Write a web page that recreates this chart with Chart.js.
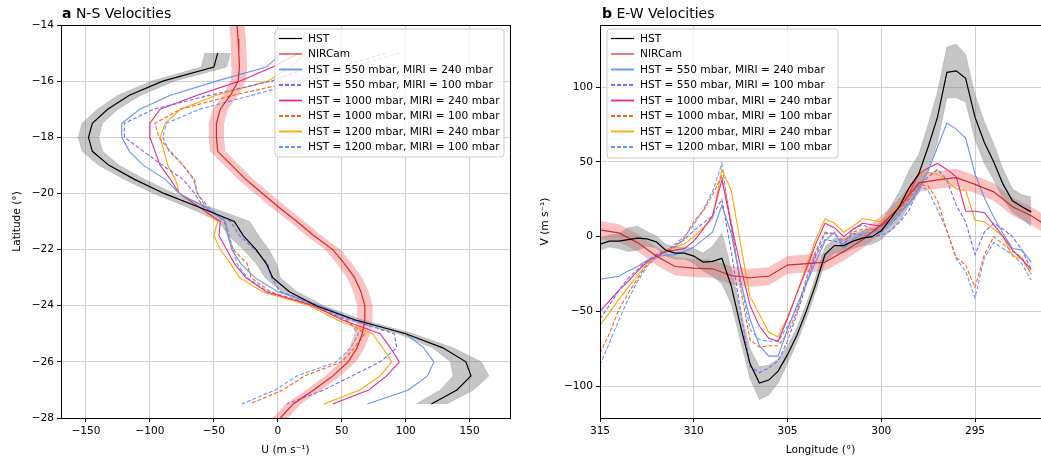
<!DOCTYPE html>
<html>
<head>
<meta charset="utf-8">
<script src="https://cdn.jsdelivr.net/npm/chart.js@4.4.0/dist/chart.umd.min.js"></script>
<style>
  body { margin: 0; background: #fff; }
  #wrap { position: relative; width: 1041px; height: 460px; overflow: hidden; }
  #left { position: absolute; left: 0; top: 0; }
  #right { position: absolute; left: 520px; top: 0; }
</style>
</head>
<body>
<div id="wrap">
  <canvas id="left" width="520" height="460"></canvas>
  <canvas id="right" width="521" height="460"></canvas>
</div>
<script>
// ---- series labels / styles ----
var seriesLabels = ['HST', 'NIRCam',
  'HST = 550 mbar, MIRI = 240 mbar', 'HST = 550 mbar, MIRI = 100 mbar',
  'HST = 1000 mbar, MIRI = 240 mbar', 'HST = 1000 mbar, MIRI = 100 mbar',
  'HST = 1200 mbar, MIRI = 240 mbar', 'HST = 1200 mbar, MIRI = 100 mbar'];
var seriesColors = ['#000000', '#d62728', '#6495ed', '#7b68ee', '#e7298a', '#ff6314', '#ffa500', '#6495ff'];
var seriesDash = [[], [], [], [4, 2], [], [4, 2], [], [4, 2]];

// ---- tick values ----
var uTicks = [-150, -100, -50, 0, 50, 100, 150];
var latTicks = [-28, -26, -24, -22, -20, -18, -16, -14];
var lonTicks = [315, 310, 305, 300, 295];
var vTicks = [-100, -50, 0, 50, 100];

// ---- panel a: N-S velocities (U vs latitude) ----
var latA = [-15, -15.5, -16, -16.5, -17, -17.5, -18, -18.5, -19, -19.5, -20, -20.5, -21,
  -21.5, -22, -22.5, -23, -23.5, -24, -24.5, -25, -25.5, -26, -26.5, -27, -27.5];
var hstU = [-47, -50, -90, -116, -133, -145, -148, -145, -132, -112, -89, -61, -34,
  -27, -17, -9, -4, 9, 30, 60, 100, 129, 147, 151, 140, 120];
var hstUErr = [10, 10, 9, 9, 8, 8, 8, 8, 8, 8, 8, 9, 12, 12, 10, 8, 6, 6, 6, 6, 6, 8, 12, 14, 13, 12];
var nircamLatA = [-14, -14.5, -15, -15.5, -16, -16.5, -17, -17.5, -18, -18.5, -19, -19.5, -20, -20.5,
  -21, -21.5, -22, -22.5, -23, -23.5, -24, -24.5, -25, -25.5, -26, -26.5, -27, -27.5, -28];
var nircamU = [-32, -31, -30.5, -30, -31, -37, -45, -48, -48, -47, -36, -25, -12, 1,
  15, 28, 43, 52, 60, 65, 68, 68, 66, 62, 55, 43, 28, 12, 2];
var nircamUErr = [6, 6, 6, 6, 6, 6, 6, 6, 6, 6, 6, 6, 6, 6, 6, 6, 6, 6, 6, 6, 6, 6, 6, 6, 6, 6, 6, 6, 6];
var u550_240 = [3, -9, -48, -84, -108, -122, -122, -116, -105, -88, -77, -56, -41,
  -39, -36, -29, -18, 0, 33, 60, 100, 114, 122, 117, 102, 70];
var u550_100 = [45, 25, -5, -53, -97, -120, -120, -105, -90, -74, -65, -58, -37,
  -30, -18, -8, -5, 2, 33, 57, 91, 93, 80, 58, 36, 7];
var u1000_240 = [17, -4, -30, -63, -92, -100, -100, -96, -92, -84, -77, -61, -45,
  -46, -40, -34, -25, -9, 28, 50, 80, 88, 95, 85, 71, 43];
var u1000_100 = [85, 47, 15, -35, -76, -96, -93, -84, -74, -65, -63, -56, -42,
  -39, -35, -24, -21, -6, 29, 52, 68, 60, 50, 21, 4, -22];
var u1200_240 = [22, 10, -8, -48, -76, -88, -92, -89, -86, -80, -77, -61, -47,
  -50, -45, -37, -30, -12, 25, 46, 74, 82, 89, 80, 64, 36];
var u1200_100 = [95, 58, 20, -20, -61, -87, -90, -85, -74, -66, -63, -54, -41,
  -38, -35, -32, -24, -8, 30, 54, 63, 57, 46, 15, -2, -28];

// ---- panel b: E-W velocities (V vs longitude) ----
var lonB = [315, 314.5, 314, 313.5, 313, 312.5, 312, 311.5, 311, 310.5, 310, 309.5, 309, 308.5,
  308, 307.5, 307, 306.5, 306, 305.5, 305, 304.5, 304, 303.5, 303, 302.5, 302, 301.5, 301,
  300.5, 300, 299.5, 299, 298.5, 298, 297.5, 297, 296.5, 296, 295.5, 295, 294.5, 294, 293.5,
  293, 292.5, 292];
var hstV = [-5, -3, -3, -2, -1, -1.5, -3.5, -9, -11, -11, -13, -17, -16.5, -14.5,
  -33, -60, -85, -98, -96, -90, -79, -66, -50, -32, -12, -6, -6, -3, -1,
  0, 4, 12, 21, 33, 42, 60, 80, 110, 111, 106, 80, 63, 50, 35, 24, 20, 16.6];
var hstVErr = [4, 4, 5, 8, 8, 5, 4, 4, 4, 4, 5, 6, 10, 17, 12, 10, 10, 11, 10, 8, 6, 5, 5, 5,
  5, 5, 5, 5, 5, 5, 6, 8, 10, 12, 13, 15, 17, 17, 18, 16, 15, 14, 12, 10, 8, 8, 10];
var nircamLonB = [315, 314, 313, 312, 311, 310, 309, 308, 307, 306, 305, 304, 303, 302, 301,
  300, 299, 298, 297, 296, 295, 294, 293, 292, 291];
var nircamV = [4.5, 2.5, -4, -13, -20, -21, -21.5, -26, -27.5, -26.5, -19, -18, -17, -10, -2,
  8, 20, 36, 38, 39.5, 35, 30, 20, 14, 6];
var nircamVErr = [6, 6, 6, 6, 6, 6, 6, 6, 6, 6, 6, 6, 6, 6, 6, 6, 6, 6, 6, 6, 6, 6, 6, 6, 6];
var v550_240 = [-28.5, -27.5, -26.5, -23, -20, -16, -13.5, -12.5, -12, -10, -7, -2, 3, 21,
  2, -30, -55, -73, -80, -80, -62, -46, -32, -17, -3, 3, -8, -2, 2,
  3, 4, 10, 17, 22, 32, 44, 60, 76, 72, 66, 42, 26, 13, 2, -8, -9, -17];
var v550_100 = [-55, -46, -36, -28, -22, -16, -12, -9, -6, -2, 4, 9, 14, 25,
  -10, -50, -87, -91, -88, -83, -70, -52, -32, -13, -2, -3, -5, 2, 1,
  0, 1, 4, 10, 18, 33, 40, 45, 38, 21, 10, -12, 3, 9, 5, 0, -9, -22];
var v1000_240 = [-50, -43, -36, -30, -23, -17, -13, -10, -9, -8, -3, 5, 14, 38,
  8, -20, -46, -60, -68, -70, -55, -38, -22, -5, 9, 6, 0, 5, 9,
  8, 7, 12, 20, 29, 42, 46, 49, 45, 40, 17, 17, 16, 8, 0, -9, -15, -22];
var v1000_100 = [-78, -65, -49, -38, -28, -19, -14, -10, -7, -1, 10, 17, 28, 41,
  10, -35, -69, -74, -73, -73, -65, -50, -28, -10, 3, 2, -3, 3, 5,
  5, 5, 10, 18, 26, 35, 34, 24, 4, -14, -19, -34, -12, 0, -5, -10, -14, -25];
var v1200_240 = [-59, -51, -42, -34, -26, -18, -13, -9, -7, -5, 0, 6, 12, 45,
  31, -5, -40, -52, -64, -67, -54, -38, -20, -2, 12, 9, 3, 7, 12,
  11, 10, 14, 22, 31, 42, 43, 42, 37, 32, 31, 11, 10, 5, 0, -13, -15, -25];
var v1200_100 = [-86, -71, -56, -42, -30, -20, -14, -10, -5, 0, 8, 18, 30, 49,
  5, -30, -62, -69, -70, -70, -60, -48, -30, -12, 2, 2, -5, 5, 8,
  5, 3, 8, 15, 25, 34, 31, 18, 4, -15, -23, -41, -14, -4, -8, -12, -18, -29];

var greyBand = 'rgba(128,128,128,0.45)';
var redBand = 'rgba(240,70,70,0.33)';
var fontFamily = '"DejaVu Sans", sans-serif';
var smallFont = 10.6;

Chart.defaults.font.family = fontFamily;
Chart.defaults.font.size = smallFont;
Chart.defaults.color = '#000';

function minusFmt(v) {
  return v < 0 ? '\u2212' + Math.abs(v) : String(v);
}

// build {x,y} points; vertical = profile drawn against latitude on the y axis
function pts(coord, vals, vertical, err, sign) {
  var out = [];
  for (var i = 0; i < coord.length; i++) {
    var v = vals[i];
    if (err) v = v + sign * err[i];
    out.push(vertical ? { x: v, y: coord[i] } : { x: coord[i], y: v });
  }
  return out;
}

function buildDatasets(vertical, coord, hst, hstErr, nCoord, nir, nirErr, models) {
  var ds = [];
  ds.push({ label: seriesLabels[0], data: pts(coord, hst, vertical), borderColor: seriesColors[0],
    borderWidth: 1.2, order: 1, legendWidth: 1.2 });
  ds.push({ label: seriesLabels[1], data: pts(nCoord, nir, vertical), borderColor: seriesColors[1],
    borderWidth: 1.2, order: 2, legendWidth: 1.2 });
  for (var k = 0; k < models.length; k++) {
    ds.push({ label: seriesLabels[k + 2], data: pts(coord, models[k], vertical),
      borderColor: seriesColors[k + 2], borderDash: seriesDash[k + 2],
      borderWidth: 1.1, order: 3 + k, legendWidth: 1.8 });
  }
  // shaded uncertainty bands (lower bound, then upper filled to it)
  ds.push({ data: pts(coord, hst, vertical, hstErr, -1), borderColor: greyBand, borderWidth: 0.6,
    fill: false, order: 21 });
  ds.push({ data: pts(coord, hst, vertical, hstErr, 1), borderColor: greyBand, borderWidth: 0.6,
    backgroundColor: greyBand, fill: '-1', order: 20 });
  ds.push({ data: pts(nCoord, nir, vertical, nirErr, -1), borderColor: 'rgba(0,0,0,0)', borderWidth: 0,
    fill: false, order: 23 });
  ds.push({ data: pts(nCoord, nir, vertical, nirErr, 1), borderColor: 'rgba(0,0,0,0)', borderWidth: 0,
    backgroundColor: redBand, fill: '-1', order: 22 });
  return ds;
}

// spines + panel title
var frame = {
  id: 'frame',
  afterDatasetsDraw: function (chart) {
    var ctx = chart.ctx, a = chart.chartArea;
    ctx.save();
    ctx.strokeStyle = '#000';
    ctx.lineWidth = 1;
    ctx.strokeRect(Math.round(a.left) + 0.5, Math.round(a.top) + 0.5,
      Math.round(a.right - a.left), Math.round(a.bottom - a.top));
    ctx.restore();
  },
  afterDraw: function (chart, args, opts) {
    var ctx = chart.ctx;
    ctx.save();
    ctx.fillStyle = '#000';
    ctx.textBaseline = 'alphabetic';
    ctx.font = 'bold 14px ' + fontFamily;
    ctx.fillText(opts.letter, opts.x, 18);
    var w = ctx.measureText(opts.letter).width;
    ctx.font = '14px ' + fontFamily;
    ctx.fillText(' ' + opts.text, opts.x + w, 18);
    ctx.restore();
  }
};

// matplotlib-like legend drawn inside the plot
var insideLegend = {
  id: 'insideLegend',
  afterDraw: function (chart, args, opts) {
    var ctx = chart.ctx;
    var items = chart.data.datasets.filter(function (d) { return d.label; });
    var x = opts.x, y = opts.y, w = opts.w, h = opts.h, r = 3;
    ctx.save();
    ctx.beginPath();
    ctx.moveTo(x + r, y);
    ctx.arcTo(x + w, y, x + w, y + h, r);
    ctx.arcTo(x + w, y + h, x, y + h, r);
    ctx.arcTo(x, y + h, x, y, r);
    ctx.arcTo(x, y, x + w, y, r);
    ctx.closePath();
    ctx.fillStyle = 'rgba(255,255,255,0.8)';
    ctx.fill();
    ctx.strokeStyle = '#cccccc';
    ctx.lineWidth = 1;
    ctx.stroke();
    ctx.font = smallFont + 'px ' + fontFamily;
    ctx.textBaseline = 'middle';
    for (var i = 0; i < items.length; i++) {
      var d = items[i];
      var yy = y + 9.5 + i * 15.5;
      ctx.beginPath();
      ctx.setLineDash(d.borderDash || []);
      ctx.strokeStyle = d.borderColor;
      ctx.lineWidth = d.legendWidth;
      ctx.moveTo(x + 4, yy);
      ctx.lineTo(x + 27, yy);
      ctx.stroke();
      ctx.setLineDash([]);
      ctx.fillStyle = '#000';
      ctx.fillText(d.label, x + 33, yy + 0.5);
    }
    ctx.restore();
  }
};

function axis(min, max, tickValues, titleText, titlePad, size, vertical, reverse) {
  return {
    type: 'linear', min: min, max: max, reverse: !!reverse,
    afterBuildTicks: function (s) {
      s.ticks = tickValues.map(function (v) { return { value: v }; });
    },
    ticks: { autoSkip: false, callback: minusFmt, maxRotation: 0,
      padding: 3, color: '#000', font: { size: smallFont } },
    grid: { color: '#cfcfcf', lineWidth: 1, tickColor: '#000', tickLength: 4 },
    border: { color: '#000', width: 1 },
    title: { display: true, text: titleText, color: '#000', font: { size: smallFont }, padding: titlePad },
    afterFit: function (s) {
      if (vertical) s.width = size; else s.height = size;
    }
  };
}

function baseOptions(pad, legendBox, letter, text, titleX) {
  return {
    responsive: false, animation: false, devicePixelRatio: 1, events: [],
    layout: { padding: pad },
    elements: { point: { radius: 0 }, line: { tension: 0 } },
    plugins: {
      legend: { display: false }, tooltip: { enabled: false },
      insideLegend: legendBox,
      frame: { letter: letter, text: text, x: titleX }
    }
  };
}

// panel a
var optA = baseOptions({ left: 0, right: 10, top: 25, bottom: 0 },
  { x: 275, y: 29, w: 229, h: 128 }, 'a', 'N-S Velocities', 62);
optA.indexAxis = 'y';
optA.scales = {
  x: axis(-169.5, 181.5, uTicks, 'U (m s\u207B\u00B9)', { top: 0, bottom: 3 }, 42, false),
  y: axis(-28, -14, latTicks, 'Latitude (\u00B0)', { top: 11, bottom: 0 }, 61, true)
};
new Chart(document.getElementById('left'), {
  type: 'line',
  data: { datasets: buildDatasets(true, latA, hstU, hstUErr, nircamLatA, nircamU, nircamUErr,
    [u550_240, u550_100, u1000_240, u1000_100, u1200_240, u1200_100]) },
  options: optA,
  plugins: [frame, insideLegend]
});

// panel b
var optB = baseOptions({ left: 0, right: 0, top: 25, bottom: 0 },
  { x: 87, y: 29, w: 231, h: 129 }, 'b', 'E-W Velocities', 82);
optB.scales = {
  x: axis(291.48, 315, lonTicks, 'Longitude (\u00B0)', { top: 0, bottom: 3 }, 42, false, true),
  y: axis(-121.4, 141.7, vTicks, 'V (m s\u207B\u00B9)', { top: 19, bottom: 0 }, 80, true)
};
new Chart(document.getElementById('right'), {
  type: 'line',
  data: { datasets: buildDatasets(false, lonB, hstV, hstVErr, nircamLonB, nircamV, nircamVErr,
    [v550_240, v550_100, v1000_240, v1000_100, v1200_240, v1200_100]) },
  options: optB,
  plugins: [frame, insideLegend]
});
</script>
</body>
</html>
